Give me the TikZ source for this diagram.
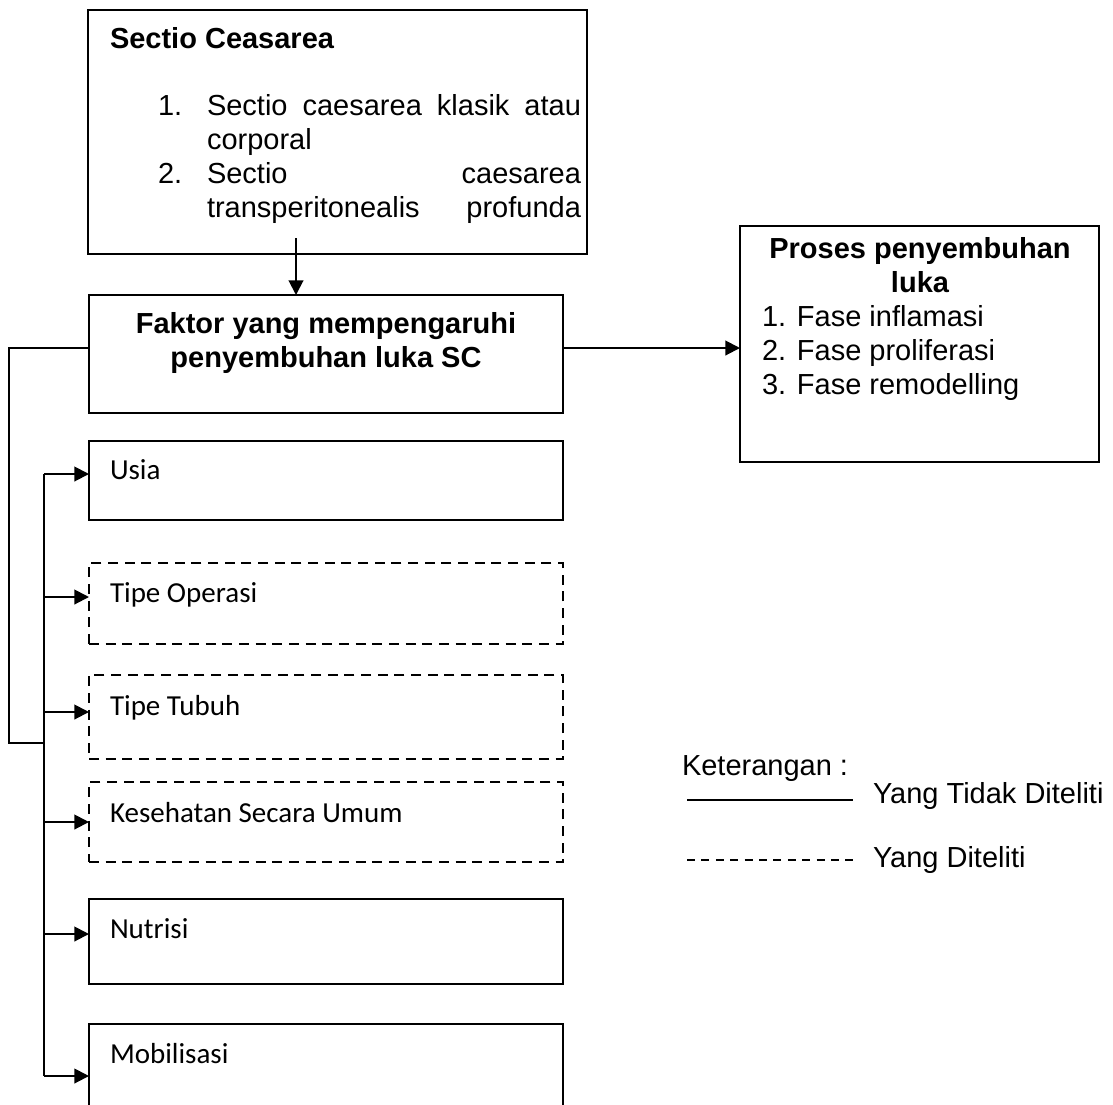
\documentclass[tikz,border=0pt]{standalone}
\usepackage{fontspec}
\setmainfont{Liberation Sans}
\newfontfamily\cali{Carlito}
\usetikzlibrary{arrows.meta}
\newcommand\fsz{\fontsize{21.75pt}{26pt}\selectfont}
\begin{document}
\begin{tikzpicture}[x=0.75pt,y=-0.75pt,
  box/.style={draw, line width=1.5pt, inner sep=0pt, outer sep=0pt, anchor=north west},
  dbox/.style={box, dash pattern=on 7.5pt off 5pt},
  arr/.style={line width=1.5pt, -{Triangle[length=11pt,width=11pt]}},
  conn/.style={line width=1.5pt},
  txt/.style={inner sep=0pt, outer sep=0pt, anchor=base west, font=\fsz},
  btxt/.style={txt, font=\fsz\bfseries},
  lbl/.style={txt, font=\fsz\cali}]
\useasboundingbox (0,0) rectangle (1113,1104);
\clip (0,0) rectangle (1113,1104);

% boxes
\node[box, minimum width=374.25pt, minimum height=183pt] (top) at (88,10) {};
\node[box, minimum width=355.5pt, minimum height=88.5pt] (faktor) at (89,295) {};
\node[box, minimum width=269.25pt, minimum height=177pt] (proses) at (740,226) {};
\node[box, minimum width=355.5pt, minimum height=59.25pt] (usia) at (89,441) {};
\node[dbox, minimum width=355.5pt, minimum height=60.75pt] (operasi) at (89,563) {};
\node[dbox, minimum width=355.5pt, minimum height=63pt] (tubuh) at (89,675) {};
\node[dbox, minimum width=355.5pt, minimum height=60pt] (kes) at (89,782) {};
\node[box, minimum width=355.5pt, minimum height=63.75pt] (nutrisi) at (89,899) {};
\node[box, minimum width=355.5pt, minimum height=66pt] (mobil) at (89,1024) {};

% top box text
\node[btxt] (sct) at (110,48) {Sectio Ceasarea};
\node[txt] (n1) at (158,115) {1.};
\node[txt] (l1) at (207,115) {\makebox[280.5pt][s]{Sectio caesarea klasik atau}};
\node[txt] (l2) at (207,149) {corporal};
\node[txt] (n2) at (158,183) {2.};
\node[txt] (l3) at (207,183) {\makebox[280.5pt][s]{Sectio caesarea}};
\node[txt] (l4) at (207,217) {\makebox[280.5pt][s]{transperitonealis profunda}};

% faktor text
\node[btxt, anchor=base] (f1) at (326,333) {Faktor yang mempengaruhi};
\node[btxt, anchor=base] (f2) at (326,367) {penyembuhan luka SC};

% proses text
\node[btxt, anchor=base] (p1) at (920,258) {Proses penyembuhan};
\node[btxt, anchor=base] (p2) at (920,292) {luka};
\node[txt] (p3) at (762,326) {1. Fase inflamasi};
\node[txt] (p4) at (762,360) {2. Fase proliferasi};
\node[txt] (p5) at (762,394) {3. Fase remodelling};

% factor labels
\node[lbl] (t1) at (110,479) {Usia};
\node[lbl] (t2) at (110,602) {Tipe Operasi};
\node[lbl] (t3) at (110,715) {Tipe Tubuh};
\node[lbl] (t4) at (110,822) {Kesehatan Secara Umum};
\node[lbl] (t5) at (110,938) {Nutrisi};
\node[lbl] (t6) at (110,1063) {Mobilisasi};

% connectors
\coordinate (a0) at (296,238);
\draw[arr] (a0) -- (a0 |- faktor.north);
\coordinate (r0) at (563,348);
\draw[arr] (r0) -- (r0 -| proses.west);
\coordinate (lf) at (89,348);
\coordinate (lo) at (9,348);
\coordinate (lb) at (9,743);
\coordinate (lv) at (44,743);
\draw[conn] (lf) -- (lo) -- (lb) -- (lv);
\coordinate (v1) at (44,474);
\coordinate (v2) at (44,597);
\coordinate (v3) at (44,712);
\coordinate (v4) at (44,822);
\coordinate (v5) at (44,934);
\coordinate (v6) at (44,1076);
\draw[conn] (v1) -- (v6);
\draw[arr] (v1) -- (v1 -| usia.west);
\draw[arr] (v2) -- (v2 -| operasi.west);
\draw[arr] (v3) -- (v3 -| tubuh.west);
\draw[arr] (v4) -- (v4 -| kes.west);
\draw[arr] (v5) -- (v5 -| nutrisi.west);
\draw[arr] (v6) -- (v6 -| mobil.west);

% legend
\node[txt] (ket) at (682,775) {Keterangan :};
\coordinate (s1) at (687,800);
\coordinate (s2) at (853,800);
\draw[line width=1.2pt] (s1) -- (s2);
\node[txt] (k1) at (873,803) {Yang Tidak Diteliti};
\coordinate (d1) at (687,860);
\coordinate (d2) at (853,860);
\draw[line width=1.1pt, dash pattern=on 6pt off 4.8pt] (d1) -- (d2);
\node[txt] (k2) at (873,867) {Yang Diteliti};
\end{tikzpicture}
\end{document}
